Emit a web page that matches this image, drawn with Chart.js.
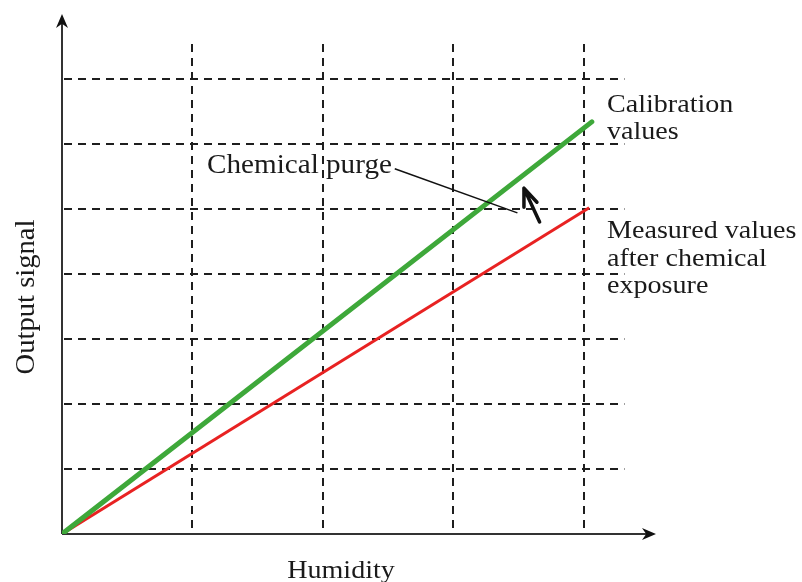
<!doctype html>
<html>
<head>
	<script src="https://cdn.jsdelivr.net/npm/chart.js@4/dist/chart.umd.min.js"></script>
	<style>
	body { margin: 0; background: #fff; }
	#holder { width: 802px; height: 582px; }
	</style>
</head>
<body>
	<div id="holder">
		<canvas id="chart-area"></canvas>
	</div>
	<script>
		// values (grid units)
		var humidityCal = [0, 4.06];
		var signalCal = [0, 6.34];
		var humidityMeas = [0, 4.04];
		var signalMeas = [0, 5.02];
		var xGrid = [1, 2, 3, 4];
		var yGrid = [1, 2, 3, 4, 5, 6, 7];
		var labels = ['Calibration values', 'Measured values after chemical exposure'];

		function toPoints(xs, ys) {
			return xs.map(function(x, i) { return { x: x, y: ys[i] }; });
		}

		var serif = '"Liberation Serif", "Times New Roman", serif';

		function stretchedText(ctx, text, x, y, align) {
			ctx.save();
			ctx.translate(x, y);
			ctx.scale(1.08, 1);
			ctx.textAlign = align || 'left';
			ctx.fillText(text, 0, 0);
			ctx.restore();
		}

		function arrowHead(ctx, tx, ty, ang, len, half) {
			ctx.save();
			ctx.translate(tx, ty);
			ctx.rotate(ang);
			ctx.beginPath();
			ctx.moveTo(0, 0);
			ctx.lineTo(-len, -half);
			ctx.lineTo(-len * 0.7, 0);
			ctx.lineTo(-len, half);
			ctx.closePath();
			ctx.fill();
			ctx.restore();
		}

		var sketch = {
			id: 'sketch',
			beforeDatasetsDraw: function(chart) {
				var ctx = chart.ctx, xs = chart.scales.x, ys = chart.scales.y;
				var x0 = xs.getPixelForValue(0), y0 = ys.getPixelForValue(0);
				ctx.save();
				ctx.strokeStyle = '#1e1e1e';
				ctx.lineWidth = 2;
				ctx.setLineDash([8, 6]);
				yGrid.forEach(function(v) {
					var y = Math.round(ys.getPixelForValue(v));
					ctx.beginPath();
					ctx.moveTo(x0 + 2, y);
					ctx.lineTo(xs.getPixelForValue(4.31), y);
					ctx.stroke();
				});
				xGrid.forEach(function(v) {
					var x = Math.round(xs.getPixelForValue(v));
					ctx.beginPath();
					ctx.moveTo(x, ys.getPixelForValue(7.54));
					ctx.lineTo(x, y0);
					ctx.stroke();
				});
				ctx.setLineDash([]);
				// axes
				ctx.strokeStyle = '#333';
				ctx.fillStyle = '#111';
				ctx.lineWidth = 2;
				ctx.beginPath();
				ctx.moveTo(x0, y0);
				ctx.lineTo(xs.right - 8, y0);
				ctx.moveTo(x0, y0);
				ctx.lineTo(x0, ys.top + 8);
				ctx.stroke();
				arrowHead(ctx, xs.right, y0, 0, 14, 6);
				arrowHead(ctx, x0, ys.top, -Math.PI / 2, 14, 6);
				ctx.restore();
			},
			afterDatasetsDraw: function(chart) {
				var ctx = chart.ctx, xs = chart.scales.x, ys = chart.scales.y;
				ctx.save();
				ctx.fillStyle = '#1a1a1a';
				ctx.font = '26px ' + serif;
				ctx.textBaseline = 'alphabetic';
				stretchedText(ctx, 'Calibration', 607, 112);
				stretchedText(ctx, 'values', 607, 139);
				stretchedText(ctx, 'Measured values', 607, 238);
				stretchedText(ctx, 'after chemical', 607, 266);
				stretchedText(ctx, 'exposure', 607, 293);
				stretchedText(ctx, 'Humidity', 341, 578, 'center');
				ctx.font = '27px ' + serif;
				stretchedText(ctx, 'Chemical purge', 207, 173);
				ctx.save();
				ctx.translate(34, 297);
				ctx.rotate(-Math.PI / 2);
				ctx.scale(1.06, 1);
				ctx.textAlign = 'center';
				ctx.fillText('Output signal', 0, 0);
				ctx.restore();
				// leader line from the label
				ctx.strokeStyle = '#111';
				ctx.lineWidth = 1.5;
				ctx.beginPath();
				ctx.moveTo(xs.getPixelForValue(2.55), ys.getPixelForValue(5.62));
				ctx.lineTo(xs.getPixelForValue(3.49), ys.getPixelForValue(4.94));
				ctx.stroke();
				// purge arrow
				var tx = xs.getPixelForValue(3.54), ty = ys.getPixelForValue(5.32);
				var bx = xs.getPixelForValue(3.66), by = ys.getPixelForValue(4.8);
				ctx.lineWidth = 3.5;
				ctx.lineCap = 'round';
				ctx.beginPath();
				ctx.moveTo(bx, by);
				ctx.lineTo(tx, ty);
				ctx.moveTo(tx, ty);
				ctx.lineTo(tx, ty + 19);
				ctx.moveTo(tx, ty);
				ctx.lineTo(tx + 13, ty + 14);
				ctx.stroke();
				ctx.restore();
			}
		};

		var config = {
			type: 'scatter',
			data: {
				datasets: [{
					label: labels[0],
					data: toPoints(humidityCal, signalCal),
					showLine: true,
					borderColor: '#3ea83a',
					borderWidth: 5,
					borderCapStyle: 'round',
					pointRadius: 0
				}, {
					label: labels[1],
					data: toPoints(humidityMeas, signalMeas),
					showLine: true,
					borderColor: '#e82222',
					borderWidth: 3,
					pointRadius: 0
				}]
			},
			options: {
				responsive: true,
				maintainAspectRatio: false,
				animation: false,
				layout: {
					padding: { left: 62, top: 14, right: 146, bottom: 48 }
				},
				plugins: {
					legend: { display: false },
					tooltip: { enabled: false }
				},
				scales: {
					x: { type: 'linear', min: 0, max: 4.552, display: false },
					y: { type: 'linear', min: 0, max: 8, display: false }
				}
			},
			plugins: [sketch]
		};

		window.onload = function() {
			var ctx = document.getElementById('chart-area').getContext('2d');
			window.myChart = new Chart(ctx, config);
		};
	</script>
</body>
</html>
